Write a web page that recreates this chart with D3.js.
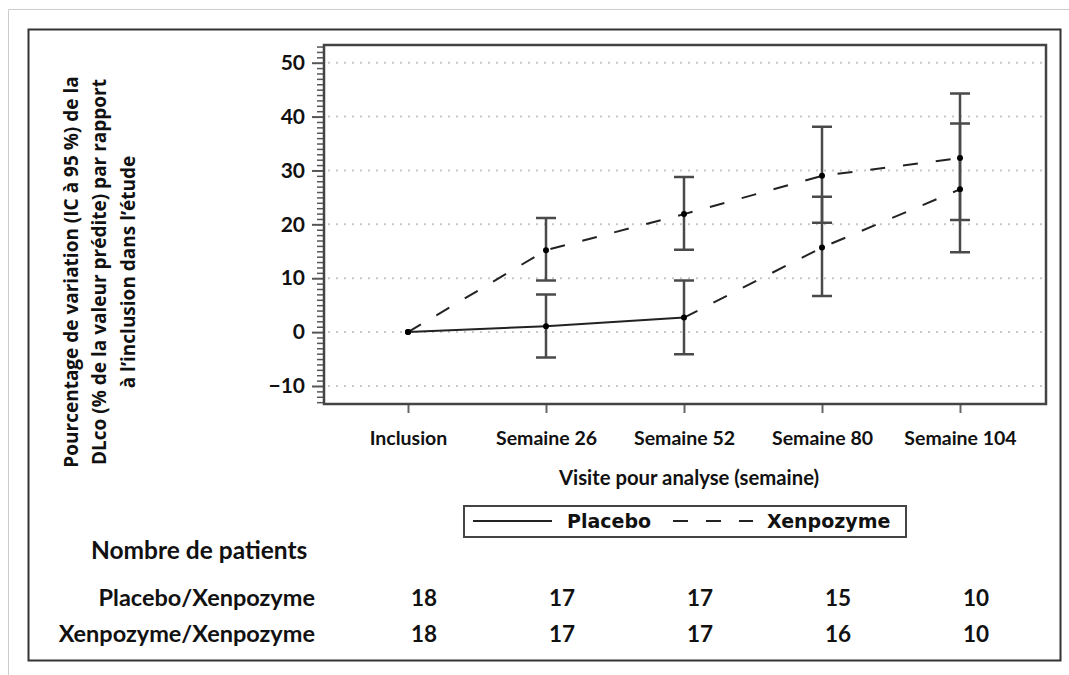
<!DOCTYPE html>
<html>
<head>
<meta charset="utf-8">
<script src="https://cdn.jsdelivr.net/npm/d3@7"></script>
<style>
  body { margin: 0; background: #fff; }
  svg { display: block; }
  text { fill: #111; font-weight: bold; }
</style>
</head>
<body>
<svg id="chart" width="1069" height="675"></svg>
<script>
'use strict';

const visits = ['Inclusion', 'Semaine 26', 'Semaine 52', 'Semaine 80', 'Semaine 104'];

const placeboMean = [0, 1.1, 2.7, 15.7, 26.5];
const placeboLow = [null, -4.7, -4.1, 6.7, 14.8];
const placeboHigh = [null, 7.0, 9.6, 25.1, 38.7];

const xenMean = [0, 15.2, 21.9, 29.0, 32.3];
const xenLow = [null, 9.6, 15.3, 20.3, 20.8];
const xenHigh = [null, 21.2, 28.8, 38.1, 44.3];

const countPlacebo = [18, 17, 17, 15, 10];
const countXen = [18, 17, 17, 16, 10];

const yTicks = [-10, 0, 10, 20, 30, 40, 50];

const yTitle = [
  'Pourcentage de variation (IC à 95 %) de la',
  'DLco (% de la valeur prédite) par rapport',
  'à l’inclusion dans l’étude'
];

const svg = d3.select('#chart');
const font = 'Lato, "Open Sans", sans-serif';
const wide = '"DejaVu Sans", Verdana, sans-serif';

const plot = { left: 324, right: 1046, top: 45, bottom: 404 };

const x = d3.scalePoint().domain(visits).range([408, 960]);
const y = d3.scaleLinear().domain([-10, 50]).range([386, 62.7]);

// page edge + outer frame
svg.append('path')
  .attr('d', 'M8.5,675V9.5H1069')
  .attr('fill', 'none')
  .attr('stroke', '#ccc');

svg.append('rect')
  .attr('x', 28.5).attr('y', 29.5)
  .attr('width', 1032).attr('height', 631)
  .attr('fill', 'none')
  .attr('stroke', '#333')
  .attr('stroke-width', 2);

// grid
svg.append('g')
  .selectAll('line')
  .data(yTicks)
  .enter().append('line')
  .attr('x1', plot.left + 4).attr('x2', plot.right - 2)
  .attr('y1', d => y(d)).attr('y2', d => y(d))
  .attr('stroke', '#c8c8c8')
  .attr('stroke-width', 2)
  .attr('stroke-dasharray', '2,6');

// y axis: minor ticks every unit, labelled ticks every 10
const minor = d3.range(-13, 54).filter(v => v % 10 !== 0);

svg.append('g')
  .attr('transform', 'translate(' + plot.left + ',0)')
  .call(d3.axisLeft(y).tickValues(minor).tickSize(7).tickFormat(''))
  .call(g => g.select('.domain').remove())
  .call(g => g.selectAll('line').attr('stroke', '#555').attr('stroke-width', 1.5));

svg.append('g')
  .attr('transform', 'translate(' + plot.left + ',0)')
  .call(d3.axisLeft(y).tickValues(yTicks).tickSize(12).tickPadding(7))
  .call(g => g.select('.domain').remove())
  .call(g => g.selectAll('line').attr('stroke', '#555').attr('stroke-width', 2))
  .call(g => g.selectAll('text')
    .attr('font-family', font)
    .attr('font-size', 21)
    .attr('font-weight', 'bold')
    .attr('fill', '#111'));

// x axis
svg.append('g')
  .attr('transform', 'translate(0,' + plot.bottom + ')')
  .call(d3.axisBottom(x).tickSize(9).tickPadding(18))
  .call(g => g.select('.domain').remove())
  .call(g => g.selectAll('line').attr('stroke', '#666').attr('stroke-width', 2))
  .call(g => g.selectAll('text')
    .attr('font-family', font)
    .attr('font-size', 19.5)
    .attr('font-weight', 'bold')
    .attr('fill', '#111'));

// plot frame
svg.append('rect')
  .attr('x', plot.left).attr('y', plot.top)
  .attr('width', plot.right - plot.left).attr('height', plot.bottom - plot.top)
  .attr('fill', 'none')
  .attr('stroke', '#444')
  .attr('stroke-width', 2.5);

// error bars
function bars(low, high) {
  const rows = visits.map((v, i) => ({ v: v, lo: low[i], hi: high[i] }))
    .filter(d => d.lo !== null);

  const g = svg.append('g')
    .attr('stroke', '#4a4a4a')
    .attr('stroke-width', 2.5)
    .attr('fill', 'none');

  g.selectAll('path')
    .data(rows)
    .enter().append('path')
    .attr('d', d => {
      const cx = x(d.v);
      return 'M' + (cx - 10) + ',' + y(d.hi) + 'H' + (cx + 10) +
        'M' + cx + ',' + y(d.hi) + 'V' + y(d.lo) +
        'M' + (cx - 10) + ',' + y(d.lo) + 'H' + (cx + 10);
    });
}

bars(placeboLow, placeboHigh);
bars(xenLow, xenHigh);

// lines
const line = d3.line().x(d => x(d.v)).y(d => y(d.m));
const pts = means => visits.map((v, i) => ({ v: v, m: means[i] }));

const pl = pts(placeboMean);
const xe = pts(xenMean);

svg.append('path')
  .attr('d', line(pl.slice(0, 3)))
  .attr('fill', 'none').attr('stroke', '#222').attr('stroke-width', 2);

svg.append('path')
  .attr('d', line(pl.slice(2)))
  .attr('fill', 'none').attr('stroke', '#222').attr('stroke-width', 2)
  .attr('stroke-dasharray', '15,18');

svg.append('path')
  .attr('d', line(xe))
  .attr('fill', 'none').attr('stroke', '#222').attr('stroke-width', 2)
  .attr('stroke-dasharray', '15,18');

svg.append('g')
  .selectAll('circle')
  .data(pl.concat(xe))
  .enter().append('circle')
  .attr('cx', d => x(d.v))
  .attr('cy', d => y(d.m))
  .attr('r', 3)
  .attr('fill', '#000');

// y title
svg.append('text')
  .attr('transform', 'translate(100,272) rotate(-90)')
  .attr('text-anchor', 'middle')
  .attr('font-family', '"Open Sans", sans-serif')
  .attr('font-size', 19)
  .selectAll('tspan')
  .data(yTitle)
  .enter().append('tspan')
  .attr('x', 0)
  .attr('y', (d, i) => (i - 1) * 28.5 + 6)
  .text(d => d);

// x title
svg.append('text')
  .attr('x', 689).attr('y', 485)
  .attr('text-anchor', 'middle')
  .attr('font-family', font)
  .attr('font-size', 20.3)
  .text('Visite pour analyse (semaine)');

// legend
const legend = svg.append('g').attr('class', 'legend');

legend.append('rect')
  .attr('x', 464).attr('y', 506)
  .attr('width', 442).attr('height', 31)
  .attr('fill', '#fff')
  .attr('stroke', '#444')
  .attr('stroke-width', 2);

legend.append('line')
  .attr('x1', 473).attr('x2', 552).attr('y1', 521).attr('y2', 521)
  .attr('stroke', '#222').attr('stroke-width', 2);

legend.append('text')
  .attr('x', 567).attr('y', 528)
  .attr('font-family', wide).attr('font-size', 19)
  .text('Placebo');

legend.append('line')
  .attr('x1', 673).attr('x2', 753).attr('y1', 521).attr('y2', 521)
  .attr('stroke', '#222').attr('stroke-width', 2)
  .attr('stroke-dasharray', '15,18');

legend.append('text')
  .attr('x', 767).attr('y', 528)
  .attr('font-family', wide).attr('font-size', 19)
  .text('Xenpozyme');

// patient counts
svg.append('text')
  .attr('x', 91).attr('y', 559)
  .attr('font-family', font).attr('font-size', 24.5)
  .text('Nombre de patients');

const rows = [
  { label: 'Placebo/Xenpozyme', counts: countPlacebo, y: 606 },
  { label: 'Xenpozyme/Xenpozyme', counts: countXen, y: 642 }
];

for (const row of rows) {
  svg.append('text')
    .attr('x', 315).attr('y', row.y)
    .attr('text-anchor', 'end')
    .attr('font-family', font).attr('font-size', 23.5)
    .text(row.label);

  svg.append('g')
    .selectAll('text')
    .data(row.counts)
    .enter().append('text')
    .attr('x', (d, i) => x(visits[i]) + 16)
    .attr('y', row.y)
    .attr('text-anchor', 'middle')
    .attr('font-family', font).attr('font-size', 22.5)
    .text(d => d);
}
</script>
</body>
</html>
